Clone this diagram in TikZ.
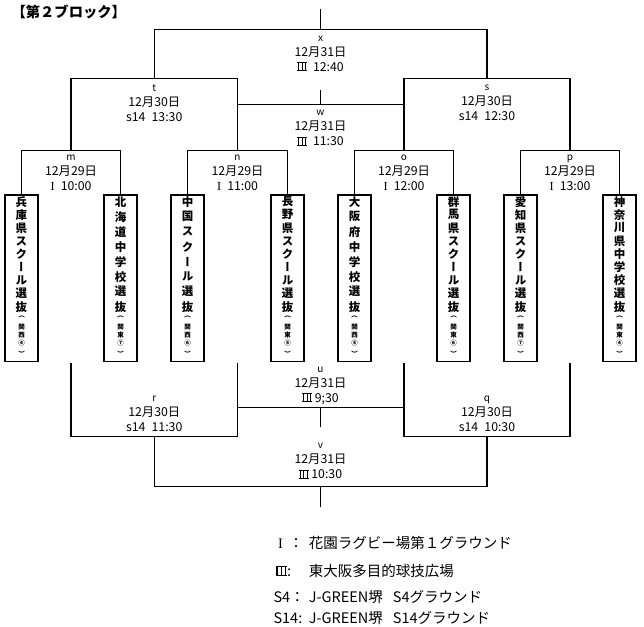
\documentclass[tikz,border=0pt]{standalone}
\usepackage{fontspec}
\setmainfont{Noto Sans CJK JP}
\newfontfamily\vjp[RawFeature=+vert]{Noto Sans CJK JP}
\newfontfamily\serif{Liberation Serif}
\usetikzlibrary{calc}

\tikzset{
  match/.style={align=center,inner sep=0pt,font=\fontsize{12.3}{15}\selectfont},
  teambox/.style={draw,line width=1.2pt,minimum width=33pt,minimum height=166.7pt,inner sep=0pt},
  tchar/.style={inner sep=0pt,font=\vjp\bfseries\fontsize{11.5}{12}\selectfont},
  rchar/.style={inner sep=0pt,font=\vjp\bfseries\fontsize{6.5}{7}\selectfont},
  legend/.style={anchor=west,inner sep=0pt,font=\fontsize{14.5}{16}\selectfont}
}
\newcommand\mlabel[3]{{\fontsize{10}{15}\selectfont #1}\\12月#2日\\#3}
\newcommand\keycol[1]{\makebox[35.3pt][l]{#1}}
\newcommand\rIII{\hbox{\rlap{\rule{.78em}{.075em}}\rlap{\rule[.645em]{.78em}{.075em}}\hspace{.06em}\rule{.09em}{.72em}\hspace{.2em}\rule{.09em}{.72em}\hspace{.2em}\rule{.09em}{.72em}\hspace{.06em}}}
\newcommand\rI{{\serif I}}

\begin{document}
\begin{tikzpicture}[x=1pt,y=-1pt,line width=1.1pt]
\useasboundingbox (0,0) rectangle (644,626);
\node[anchor=west,inner sep=0pt,font=\bfseries\fontsize{14.3}{15}\selectfont] (title) at (11,12) {【第２ブロック】};
% teams
\foreach \nm/\cx/\k/\chars/\ra/\rb/\rc in {
  hyogo/21.5/9/{兵,庫,県,ス,ク,ー,ル,選,抜}/関/西/④,
  hokkaido/120.5/8/{北,海,道,中,学,校,選,抜}/関/東/⑦,
  chugoku/187.5/8/{中,国,ス,ク,ー,ル,選,抜}/関/西/⑥,
  nagano/287.5/9/{長,野,県,ス,ク,ー,ル,選,抜}/関/東/⑤,
  osaka/354.5/8/{大,阪,府,中,学,校,選,抜}/関/西/⑤,
  gunma/453.5/9/{群,馬,県,ス,ク,ー,ル,選,抜}/関/東/⑥,
  aichi/520.5/9/{愛,知,県,ス,ク,ー,ル,選,抜}/関/西/⑦,
  kanagawa/619.5/9/{神,奈,川,県,中,学,校,選,抜}/関/東/④}{
  \node[teambox] (\nm) at (\cx,278.3) {};
  \foreach \c [count=\i] in \chars \node[tchar] (\nm-\i) at (\cx,{201.7+(\i-1)*105/(\k-1)}) {\c};
  \foreach \c/\y [count=\i] in {（/316.7,\ra/326.7,\rb/335,\rc/343.3,）/353.3} \node[rchar] (\nm-r\i) at (\cx,\y) {\c};
}
% bracket joints
\coordinate (m) at (71,150.5); \coordinate (n) at (237.5,150.5); \coordinate (o) at (404,150.5); \coordinate (p) at (570,150.5);
\coordinate (t) at (154.25,78.5); \coordinate (s) at (487,78.5); \coordinate (x) at (320.5,29.5); \coordinate (xtop) at (320.5,9.5);
\coordinate (w) at (320.5,104.5); \coordinate (wtop) at (320.5,90);
\foreach \g in {m,n,o,p} \coordinate (\g-low) at ($(\g)+(0,212)$);
\coordinate (u) at (320.5,407.5); \coordinate (ubot) at (320.5,426.7);
\coordinate (r) at (154.25,436.5); \coordinate (q) at (487,436.5);
\coordinate (v) at (320.5,486.5); \coordinate (vbot) at (320.5,506.7);
% upper side
\draw (hyogo.north) |- (m) -| (hokkaido.north); \draw (chugoku.north) |- (n) -| (nagano.north);
\draw (osaka.north) |- (o) -| (gunma.north); \draw (aichi.north) |- (p) -| (kanagawa.north);
\draw (m) |- (t) -| (n); \draw (o) |- (s) -| (p); \draw (t) |- (x) -| (s); \draw (x) -- (xtop);
\draw (n |- w) -- (o |- w); \draw (w) -- (wtop);
% lower side
\draw (m-low) |- (r) -| (n-low); \draw (o-low) |- (q) -| (p-low);
\draw (n-low |- u) -- (o-low |- u); \draw (u) -- (ubot);
\draw (r) |- (v) -| (q); \draw (v) -- (vbot);
% match labels
\node[match] (lx) at (320.5,53.5) {\mlabel{x}{31}{\rIII\enspace 12:40}};
\node[match] (lt) at (154.25,103) {\mlabel{t}{30}{s14\enspace 13:30}};
\node[match] (ls) at (487,103) {\mlabel{s}{30}{s14\enspace 12:30}};
\node[match] (lw) at (320.5,128.3) {\mlabel{w}{31}{\rIII\enspace 11:30}};
\node[match] (lm) at (71,172.5) {\mlabel{m}{29}{\rI\enspace 10:00}};
\node[match] (ln) at (237.5,172.5) {\mlabel{n}{29}{\rI\enspace 11:00}};
\node[match] (lo) at (404,172.5) {\mlabel{o}{29}{\rI\enspace 12:00}};
\node[match] (lp) at (570,172.5) {\mlabel{p}{29}{\rI\enspace 13:00}};
\node[match] (lu) at (320.5,385.7) {\mlabel{u}{31}{\rIII\ 9;30}};
\node[match] (lr) at (154.25,413.5) {\mlabel{r}{30}{s14\enspace 11:30}};
\node[match] (lq) at (487,413.5) {\mlabel{q}{30}{s14\enspace 10:30}};
\node[match] (lv) at (320.5,461) {\mlabel{v}{31}{\rIII\ 10:30}};
% legend
\node[legend] (leg1) at (273,543) {\keycol{\hspace{4.6pt}\rI\hspace{6pt}：}花園ラグビー場第１グラウンド};
\node[legend] (leg2) at (273,570.7) {\keycol{\hspace{2pt}\rIII:}東大阪多目的球技広場};
\node[legend] (leg3) at (273,596.7) {\keycol{S4：}J-GREEN堺\hspace{10pt}S4グラウンド};
\node[legend] (leg4) at (273,618.3) {\keycol{S14:}J-GREEN堺\hspace{10pt}S14グラウンド};
\end{tikzpicture}
\end{document}
